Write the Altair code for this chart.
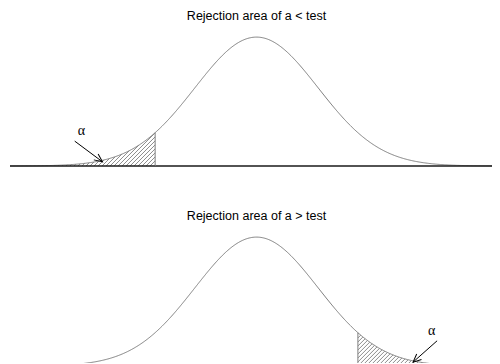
import math
import numpy as np
import pandas as pd
import altair as alt

# ---- chart content ----
panel_titles = ["Rejection area of a < test", "Rejection area of a > test"]
critical_z = [-1.645, 1.645]          # cut-off of the rejection area
alpha_label = "\u03b1"
alpha_label_x = [-2.84, 2.84]
alpha_label_y = [0.108, 0.108]
arrow_start_x = [-2.95, 2.93]
arrow_start_y = [0.077, 0.078]
arrow_tip_x = [-2.50, 2.54]
arrow_tip_y = [0.013, 0.012]
title_x = 0.0
title_y = 0.465

MU, SIGMA = 0.0, 1.0

# ---- layout ----
sx = 61.63                      # px per unit of x
W = 482
x_domain = [-4.0, -4.0 + W / sx]
tail_end = [x_domain[0], x_domain[1]]
H_top, H_bottom = 200, 155
y_top = 0.489
y_domain_top = [-0.13, y_top]
sy = H_top / (y_domain_top[1] - y_domain_top[0])
y_domain_bottom = [y_top - H_bottom / sy, y_top]


def pdf(x):
    return np.exp(-0.5 * ((x - MU) / SIGMA) ** 2) / (SIGMA * math.sqrt(2 * math.pi))


def hatch_segments(a, b, step_px=4.0):
    lo, hi = min(a, b), max(a, b)
    xs = np.linspace(lo, hi, 3000)
    f = pdf(xs) * sy
    xp = (xs - x_domain[0]) * sx
    segs = []
    for c in np.arange(xp[0] - 200, xp[-1] + step_px, step_px):
        h = xp - c
        inside = (h >= 0) & (h <= f)
        if not inside.any():
            continue
        i0 = int(np.where(inside)[0][0])
        i1 = i0
        while i1 + 1 < len(xs) and inside[i1 + 1]:
            i1 += 1
        if i1 - i0 < 2:
            continue
        segs.append({"x": xs[i0], "y": (xp[i0] - c) / sy,
                     "x2": xs[i1], "y2": (xp[i1] - c) / sy})
    return pd.DataFrame(segs)


curve_x = np.linspace(x_domain[0], x_domain[1], 600)
curve_df = pd.DataFrame({"x": curve_x, "y": pdf(curve_x)})
FONT = "Liberation Sans"


def panel(i, height, ydom):
    X = lambda f: alt.X(f, type="quantitative", scale=alt.Scale(domain=x_domain, nice=False, zero=False), axis=None)
    Y = lambda f: alt.Y(f, type="quantitative", scale=alt.Scale(domain=ydom, nice=False, zero=False), axis=None)

    curve = alt.Chart(curve_df).mark_line(color="#7f7f7f", strokeWidth=1, clip=True).encode(
        x=X("x"), y=Y("y"))

    base_df = pd.DataFrame({"x": [x_domain[0]], "x2": [x_domain[1]], "y": [0.0]})
    baseline = alt.Chart(base_df).mark_rule(color="#1a1a1a", strokeWidth=1.4, clip=True).encode(
        x=X("x"), x2="x2", y=Y("y"))

    cz = critical_z[i]
    cut_df = pd.DataFrame({"x": [cz], "y": [0.0], "y2": [float(pdf(cz))]})
    cut = alt.Chart(cut_df).mark_rule(color="#7f7f7f", strokeWidth=1, clip=True).encode(
        x=X("x"), y=Y("y"), y2="y2")

    hdf = hatch_segments(cz, tail_end[i])
    hatch = alt.Chart(hdf).mark_rule(color="#6f6f6f", strokeWidth=0.8, clip=True).encode(
        x=X("x"), y=Y("y"), x2="x2", y2="y2")

    dx_px = (arrow_tip_x[i] - arrow_start_x[i]) * sx
    dy_px = -(arrow_tip_y[i] - arrow_start_y[i]) * sy
    ang = math.degrees(math.atan2(dx_px, -dy_px)) % 360
    arr_df = pd.DataFrame({"x": [arrow_start_x[i]], "y": [arrow_start_y[i]],
                           "x2": [arrow_tip_x[i]], "y2": [arrow_tip_y[i]]})
    arrow = alt.Chart(arr_df).mark_rule(color="black", strokeWidth=1, clip=True).encode(
        x=X("x"), y=Y("y"), x2="x2", y2="y2")
    head = alt.Chart(arr_df).mark_point(
        shape="M-0.45,1L0,0L0.45,1", size=260, filled=False, color="black",
        strokeWidth=1, opacity=1, angle=ang, clip=True).encode(x=X("x2"), y=Y("y2"))

    lab_df = pd.DataFrame({"x": [alpha_label_x[i]], "y": [alpha_label_y[i]], "t": [alpha_label]})
    lab = alt.Chart(lab_df).mark_text(font="Liberation Serif", fontSize=14, color="black",
                                      baseline="middle").encode(
        x=X("x"), y=Y("y"), text="t:N")

    t_df = pd.DataFrame({"x": [title_x], "y": [title_y], "t": [panel_titles[i]]})
    title = alt.Chart(t_df).mark_text(font=FONT, fontSize=12.5, color="black", baseline="middle").encode(
        x=X("x"), y=Y("y"), text="t:N")

    return alt.layer(hatch, curve, baseline, cut, arrow, head, lab, title).properties(
        width=W, height=height)


chart = alt.vconcat(
    panel(0, H_top, y_domain_top),
    panel(1, H_bottom, y_domain_bottom),
    spacing=0,
).properties(
    padding={"left": 2, "top": 0, "right": 0, "bottom": 0},
    background="white",
).configure_view(stroke=None)

chart.save("out.html", embed_options={"renderer": "svg", "actions": False})
